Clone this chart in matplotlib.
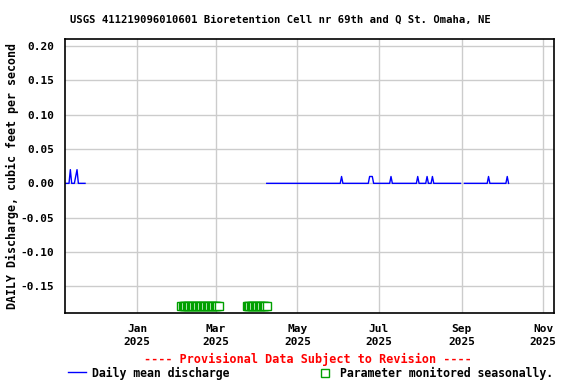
import numpy as np
import pandas as pd
import matplotlib
matplotlib.use('Agg')
import matplotlib.pyplot as plt
import matplotlib.dates as mdates
from matplotlib.lines import Line2D

# record segments of daily mean discharge (start, end), zero outside the listed days
segments = [('2024-11-08', '2024-11-23'), ('2025-04-08', '2025-08-31'), ('2025-09-03', '2025-10-06')]
peak_days = ['2024-11-12', '2024-11-13', '2024-11-16', '2024-11-17', '2024-11-18',
             '2025-06-03', '2025-06-24', '2025-06-25', '2025-06-26', '2025-07-10',
             '2025-07-30', '2025-08-06', '2025-08-10', '2025-09-21', '2025-10-05']
peak_vals = [0.02, 0.0, 0.01, 0.02, 0.0,
             0.01, 0.01, 0.01, 0.01, 0.01,
             0.01, 0.01, 0.01, 0.01, 0.01]

# days where parameter is monitored seasonally (no data)
seasonal = [('2025-02-03', '2025-03-03'), ('2025-03-24', '2025-04-08')]
seasonal_y = -0.179

yticks = [-0.15, -0.10, -0.05, 0.00, 0.05, 0.10, 0.15, 0.20]
xticks = ['2025-01-01', '2025-03-01', '2025-05-01', '2025-07-01', '2025-09-01', '2025-11-01']

title = 'USGS 411219096010601 Bioretention Cell nr 69th and Q St. Omaha, NE'
ylabel = 'DAILY Discharge, cubic feet per second'

font = {'family': 'DejaVu Sans Mono', 'weight': 'bold', 'size': 8}
plt.rcParams['font.family'] = 'DejaVu Sans Mono'
plt.rcParams['font.weight'] = 'bold'

fig = plt.figure(figsize=(5.76, 3.84), dpi=100)
ax = fig.add_axes([65 / 576, 1 - 313 / 384, 489 / 576, (313 - 39.3) / 384])

peaks = pd.Series(peak_vals, index=pd.to_datetime(peak_days))
for start, end in segments:
    days = pd.date_range(start, end, freq='D')
    vals = pd.Series(0.0, index=days)
    common = peaks.index.intersection(days)
    vals[common] = peaks[common]
    ax.plot(vals.index, vals.values, color='#0000ff', lw=1)

for start, end in seasonal:
    days = pd.date_range(start, end, freq='D')
    ax.plot(days, [seasonal_y] * len(days), ls='none', marker='s', ms=6,
            mfc='white', mec='#00a000', mew=1)

ax.set_xlim(pd.Timestamp('2024-11-08'), pd.Timestamp('2025-11-09'))
ax.set_ylim(-0.189, 0.21)
ax.set_yticks(yticks)
ax.set_yticklabels(['%.2f' % v for v in yticks], fontdict=font)
ax.set_xticks(pd.to_datetime(xticks))
ax.set_xticklabels([pd.Timestamp(t).strftime('%b\n%Y') for t in xticks], fontdict=font,
                   linespacing=1.3)
ax.tick_params(length=0, pad=8)
ax.grid(True, color='#cccccc', lw=1)
ax.set_axisbelow(True)
for s in ax.spines.values():
    s.set_linewidth(1.2)

fig.text(280 / 576, 1 - 20 / 384, title, ha='center', va='center', fontdict=dict(font, size=7.6))
fig.text(12 / 576, 1 - 176 / 384, ylabel, ha='center', va='center', rotation=90,
         fontdict=dict(font, size=8.4))
fig.text(308 / 576, 1 - 359 / 384, '---- Provisional Data Subject to Revision ----',
         ha='center', va='center', color='red', fontdict=dict(font, size=8.5))

fig.add_artist(Line2D([68 / 576, 86 / 576], [1 - 372 / 384] * 2, color='#0000ff', lw=1))
fig.text(92 / 576, 1 - 373 / 384, 'Daily mean discharge', ha='left', va='center',
         fontdict=dict(font, size=8.3))
fig.add_artist(Line2D([325 / 576], [1 - 373 / 384], marker='s', ms=6, mfc='white',
                      mec='#00a000', mew=1))
fig.text(340 / 576, 1 - 373 / 384, 'Parameter monitored seasonally.', ha='left', va='center',
         fontdict=dict(font, size=8.3))

fig.savefig('out.png', dpi=100)
